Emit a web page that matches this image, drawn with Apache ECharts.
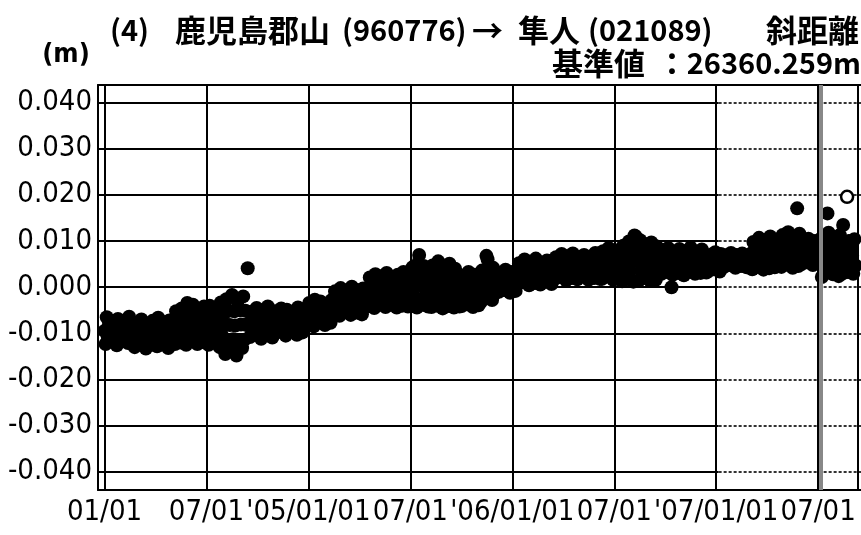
<!DOCTYPE html>
<html>
<head>
<meta charset="utf-8">
<script src="https://cdn.jsdelivr.net/npm/echarts@6/dist/echarts.min.js"></script>
<style>
  html, body { margin: 0; padding: 0; background: #fff; overflow: hidden; }
  #chart { width: 861px; height: 535px; }
</style>
</head>
<body>
<div id="chart"></div>
<script>
// ---- data ----
const firstDay = '2004-01-01';   // first solution shown
const stepDays = 2;              // sampling step of the values below (days)
// slope distance change, mm
const distMM = [
  // 2004 Jan - Jun
  -9.5,-12.3,-6.5,-10.9,-8.1, -9.6,-11.6,-7.4,-10.8,-8.2, -9.4,-12.6,-6.9,-11.0,-8.0, -9.5,-11.4,-7.8,-10.9,-8.3, -9.7,-12.1,-6.4,-10.7,-8.1, -9.5,
  -10.2,-13.0,-7.9,-11.6,-8.7, -10.1,-12.2,-7.0,-11.5,-8.8, -10.3,-13.3,-8.2,-11.7,-8.6, -10.2,-12.4,-7.3,-11.6,-8.7, -10.0,-12.8,-6.6,-11.4,-8.9, -10.2,-12.0,-7.6,-11.6,-8.7, -10.3,-13.2,-7.2,-11.5,-8.8, -10.1,
  -8.6,-12.3,-5.2,-10.5,-6.8,-8.7, -12.0,-4.6,-10.1,-5.8,-8.0, -12.5,-3.4,-10.0,-5.9,-8.1, -11.6,-3.8,-10.2,-5.8,-7.9, -12.3,-5.0,-10.1,-5.7,-8.0, -11.9,-4.2,-10.0,-5.9,
  // 2004 Jul - Dec
  -8.3,-12.5,-4.0,-10.4,-6.1, -8.2,-11.8,-5.0,-10.3,-6.2, -8.4,-13.0,-3.3,-10.5,-6.0, -8.3,
  -14.5,-2.6,-11.4,-5.1,-8.2, -13.6,-1.7,-11.3,-5.2,-8.3, -14.8,-3.0,-11.5,-5.0,-8.1, -13.2,-2.0,-11.4,-5.1,-8.2,
  4.1,
  -7.8,-10.8,-5.3,-9.3,-6.2, -7.7,-10.1,-4.5,-9.2,-6.3, -7.9,-11.2,-5.0,-9.4,-6.1, -7.8,-10.4,-4.2,-9.3,-6.2, -7.6,-10.9,
  -7.4,-10.1,-5.2,-8.7,-6.0, -7.3,-9.6,-4.6,-8.6,-6.1, -7.5,-10.5,-4.9,-8.8,-5.9, -7.4,-9.4,-5.4,-8.7,-6.0, -7.2,-10.3,-4.4,-8.6,-6.2, -7.4,-9.8,-4.8,-8.7,-6.0,
  // 2005 Jan - Jun
  -5.5,-8.0,-3.4,-6.8,-4.3, -5.4,-8.5,-2.7,-6.7,-4.4, -5.6,-7.6,-3.1,-6.9,-4.2, -5.5,-8.2,-3.6,-6.8,-4.3, -5.3,-7.7,-2.8,
  -3.1,-5.8,-0.9,-4.5,-1.8, -3.0,-6.2,-0.2,-4.4,-1.9, -3.2,-5.4,-0.7,-4.6,-1.7, -3.1,-6.0,0.1,-4.5,-1.8, -2.9,-5.5,-0.6,-4.4,-2.0, -3.1,-5.9,-0.3,-4.5,-1.8, -3.0,
  -0.8,-4.1,2.1,-2.4,0.9, -0.7,-4.5,2.8,-2.3,1.0, -0.9,-3.7,2.3,-2.5,0.8, -0.8,-4.3,3.1,-2.4,0.9, -0.6,-3.8,2.0,-2.3,1.1, -0.8,-4.4,2.7,-2.4,0.9, -0.7,-4.0,3.3,-2.5,0.8, -0.9,-4.2,2.4,
  // 2005 Jul - Dec
  0.4,-4.1,4.3,-1.9,2.6, 0.5,-4.4,5.2,7.0,2.5, 0.3,-3.8,4.6,-2.0,2.7, 0.4,-4.2,3.9,
  0.5,-4.3,4.7,-1.9,2.8, 0.4,-4.0,5.6,-1.8,2.9, 0.6,-4.6,4.4,-2.0,2.7, 0.5,-4.1,5.1,-1.9,2.8, 0.3,-4.4,4.0,-1.8,2.9, 0.5,-4.2,
  -0.6,-4.1,2.5,-2.4,1.2, -0.5,-3.7,3.3,-2.3,1.1, -0.7,-4.3,2.7,-2.5,1.3, -0.6,-3.9,
  0.4,-3.2,3.6,-1.4,2.2, 0.5,6.8,6.0,-1.3,2.1, 0.3,-2.8,4.2,-1.5,2.3, 0.4,
  1.3,-1.0,3.0,0.1,2.4, 1.2,-0.6,3.8,0.2,2.3, 1.4,-1.2,3.3,0.0,2.5, 1.3,-0.8,
  // 2006 Jan - Jun
  3.2,0.7,5.2,2.0,4.5, 3.1,1.1,6.0,2.1,4.4, 3.3,0.4,5.5,1.9,4.6, 3.2,0.9,6.2,2.0,4.5, 3.0,0.6,5.0,2.1,4.4, 3.2,1.2,5.8,2.0,4.5, 3.3,0.7,5.4,
  4.4,1.8,6.5,3.1,5.7, 4.3,2.2,7.2,3.2,5.6, 4.5,1.5,6.7,3.0,5.8, 4.4,2.0,7.3,3.1,5.7, 4.2,1.7,6.4,3.2,5.6, 4.4,2.3,7.0,3.1,5.7, 4.5,1.6,6.6,3.0,5.8, 4.4,2.0,7.4,3.1,5.7, 4.3,1.8,
  5.1,1.8,7.8,3.4,6.7, 5.0,2.3,8.5,3.5,6.6, 5.2,1.6,7.5,3.3,6.8, 5.1,2.0,8.2,
  // 2006 Jul - Dec
  5.7,1.3,9.0,3.5,7.8, 5.6,1.8,9.9,3.6,7.7, 5.8,1.2,11.2,11.0,7.9, 5.7,1.5,10.2,3.5,7.8, 5.6,2.0,9.3,3.4,7.9, 5.7,1.4,9.7,3.6,7.8, 5.5,1.6,8.8,3.5,7.7,
  5.6,2.9,8.0,4.3,7.0, 5.5,3.3,8.5,4.4,6.9, 0.0,2.7,7.6,4.2,7.1, 5.6,3.1,8.3,4.3,7.0, 5.4,2.6,7.8,4.4,6.9, 5.6,3.4,8.6,4.3,7.0, 5.7,2.9,7.5,4.2,7.1, 5.6,3.1,8.2,4.3,7.0, 5.5,3.2,
  5.5,3.5,7.0,4.5,6.4, 5.4,3.9,7.6,4.6,6.3, 5.6,3.4,7.2,4.4,
  // 2007 Jan - Aug
  5.8,4.4,6.9,5.1,6.5, 5.7,4.8,7.4,5.2,6.4, 5.9,4.2,7.0,5.0,6.6, 5.8,4.6,7.3,5.1,6.5, 5.6,4.3,6.8,5.2,6.4,
  7.3,3.9,9.8,5.6,9.0, 7.2,4.4,10.7,5.7,8.9, 7.4,3.8,10.2,5.5,9.1, 7.3,4.1,11.0,5.6,9.0, 7.1,4.3,9.6,5.7,8.9, 7.3,
  8.1,4.4,11.3,6.3,10.0, 8.0,4.9,11.9,6.2,10.1, 8.2,4.2,11.0,6.4,9.9, 17.1,4.6,11.6,
  7.7,5.0,9.8,6.4,9.1, 7.6,5.4,10.5,6.5,9.0, 7.8,4.8,10.0,6.3,9.2, 7.7,5.2,10.3,
  7.0,2.2,11.0,4.6,9.4, 6.9,16.0,11.8,4.7,9.3, 7.1,2.8,10.6,4.5,9.5, 7.0,2.4,11.3,
  6.7,2.9,13.5,4.8,8.5, 6.6,3.3,10.0,4.9,8.4, 6.8,2.9,10.4,4.7
];
const openDate = ['2007-08-18'];   // hollow marker
const openMM = [19.6];
const yMin = -0.04, yMax = 0.04, yStep = 0.01;   // y tick labels (m)
const xStepYears = 0.5;                          // half-year ticks
const titleMain = ['(4)', '鹿児島郡山', '(960776)', '→', '隼人', '(021089)', '斜距離'];
const titleSub = ['基準値', '：', '26360.259m'];
const unitLabel = '(m)';

// ---- helpers ----
function decYearFromUTC(ms) {
  const d = new Date(ms);
  const y = d.getUTCFullYear();
  const s = Date.UTC(y, 0, 1), e = Date.UTC(y + 1, 0, 1);
  return y + (ms - s) / (e - s);
}
const t0 = Date.parse(firstDay + 'T00:00:00Z');
const mainData = distMM.map((v, i) => [decYearFromUTC(t0 + i * stepDays * 86400000), v / 1000]);
const openData = openDate.map((d, i) => [decYearFromUTC(Date.parse(d + 'T00:00:00Z')), openMM[i] / 1000]);

// layout (pixels)
const W = 861;
const pxPerYear = (821 - 104.5) / 3.5;
const frameL = 98, frameT = 85, frameB = 490;
const innerL = 104.5;
const y40 = 102.7, yM40 = 471.7;
const pxPerM = (yM40 - y40) / (yMax - yMin);
const xSplit = innerL + 3 * pxPerYear;   // 2007/01/01 line: dotted grid to the right
const fMinX = 2004 - (innerL - frameL) / pxPerYear;
const fMaxX = fMinX + (W - frameL) / pxPerYear;
const fMaxY = yMax + (y40 - frameT) / pxPerM;
const fMinY = yMin - (frameB - yM40) / pxPerM;

const labelFont = "'Liberation Sans Narrow', 'DejaVu Sans Condensed', 'Liberation Sans', sans-serif";
const cjk = '"Noto Sans CJK JP", "Noto Sans CJK SC", sans-serif';

function xLabel(v) {
  const h = v * 2;
  if (Math.abs(h - Math.round(h)) > 1e-6) return '';
  const yr = Math.floor(v + 1e-9);
  const half = v - yr > 0.25;
  if (half) return '07/01';
  if (yr === 2004) return '01/01';
  return "'" + String(yr).slice(2) + '/01/01';
}

const chart = echarts.init(document.getElementById('chart'), null, { renderer: 'canvas' });
const hiddenAxis = { show: false };
const frameAxisLine = { show: true, onZero: false, lineStyle: { color: '#000', width: 2 } };
const frameAxis = { show: true, axisLine: frameAxisLine, axisTick: { show: false },
  axisLabel: { show: false }, splitLine: { show: false } };
const tFont = 'bold 31px ' + cjk;
const nFont = 'bold 29px ' + cjk;
function tText(x, y, text, align, font) {
  return { type: 'text', x: x, y: y, style: { text: text, font: font || tFont, fill: '#000',
    textAlign: align, textVerticalAlign: 'middle', align: align, verticalAlign: 'middle' } };
}

chart.setOption({
  animation: false,
  backgroundColor: '#fff',
  grid: [
    { left: frameL, top: frameT, width: W - frameL, height: frameB - frameT },
    { left: innerL, top: frameT, width: W - innerL, height: frameB - frameT },
    { left: frameL, top: y40, width: xSplit - frameL, height: yM40 - y40 },
    { left: xSplit, top: y40, width: W - xSplit, height: yM40 - y40 }
  ],
  xAxis: [
    Object.assign({ gridIndex: 0, type: 'value', min: fMinX, max: fMaxX, position: 'bottom' }, frameAxis),
    { gridIndex: 1, type: 'value', min: 2004, max: fMaxX, interval: xStepYears,
      axisLine: { show: false }, axisTick: { show: false },
      splitLine: { show: true, lineStyle: { color: '#000', width: 2 } },
      axisLabel: { show: true, formatter: xLabel, color: '#000', fontSize: 29,
        fontFamily: labelFont, margin: 8, showMinLabel: true, showMaxLabel: true } },
    Object.assign({ gridIndex: 2, type: 'value', min: 0, max: 1 }, hiddenAxis),
    Object.assign({ gridIndex: 3, type: 'value', min: 0, max: 1 }, hiddenAxis),
    Object.assign({ gridIndex: 0, type: 'value', min: fMinX, max: fMaxX, position: 'top' }, frameAxis)
  ],
  yAxis: [
    Object.assign({ gridIndex: 0, type: 'value', min: fMinY, max: fMaxY, position: 'left' }, frameAxis),
    Object.assign({ gridIndex: 1, type: 'value', min: 0, max: 1 }, hiddenAxis),
    { gridIndex: 2, type: 'value', min: yMin, max: yMax, interval: yStep,
      axisLine: { show: false }, axisTick: { show: false },
      splitLine: { show: true, lineStyle: { color: '#000', width: 2 } },
      axisLabel: { formatter: v => v.toFixed(3), color: '#000', fontSize: 29,
        fontFamily: labelFont, margin: 6 } },
    { gridIndex: 3, type: 'value', min: yMin, max: yMax, interval: yStep,
      axisLine: { show: false }, axisTick: { show: false },
      axisLabel: { show: false },
      splitLine: { show: true, lineStyle: { color: '#333', width: 2, type: [3, 2] } } }
  ],
  series: [
    { type: 'line', xAxisIndex: 0, yAxisIndex: 0, data: [], z: 1, silent: true,
      markLine: { silent: true, symbol: 'none', label: { show: false },
        lineStyle: { color: '#888', width: 4, type: 'solid' },
        data: [{ xAxis: 2007.5 }] } },
    { type: 'scatter', xAxisIndex: 0, yAxisIndex: 0, data: mainData, symbolSize: 14,
      itemStyle: { color: '#000', opacity: 1 }, z: 3, silent: true, large: false },
    { type: 'scatter', xAxisIndex: 0, yAxisIndex: 0, data: openData, symbolSize: 12,
      itemStyle: { color: '#fff', borderColor: '#000', borderWidth: 2.5, opacity: 1 }, z: 4, silent: true }
  ],
  graphic: [
    tText(66, 55, unitLabel, 'center', 'bold 27px ' + labelFont),
    tText(110, 30, titleMain[0], 'left', nFont),
    tText(175, 30, titleMain[1], 'left'),
    tText(342, 30, titleMain[2], 'left', nFont),
    tText(472, 30, titleMain[3], 'left'),
    tText(518, 30, titleMain[4], 'left'),
    tText(588, 30, titleMain[5], 'left', nFont),
    tText(859, 30, titleMain[6], 'right'),
    tText(552, 63, titleSub[0], 'left'),
    tText(672, 63, titleSub[1], 'center'),
    tText(861, 63, titleSub[2], 'right', nFont)
  ]
});
</script>
</body>
</html>
